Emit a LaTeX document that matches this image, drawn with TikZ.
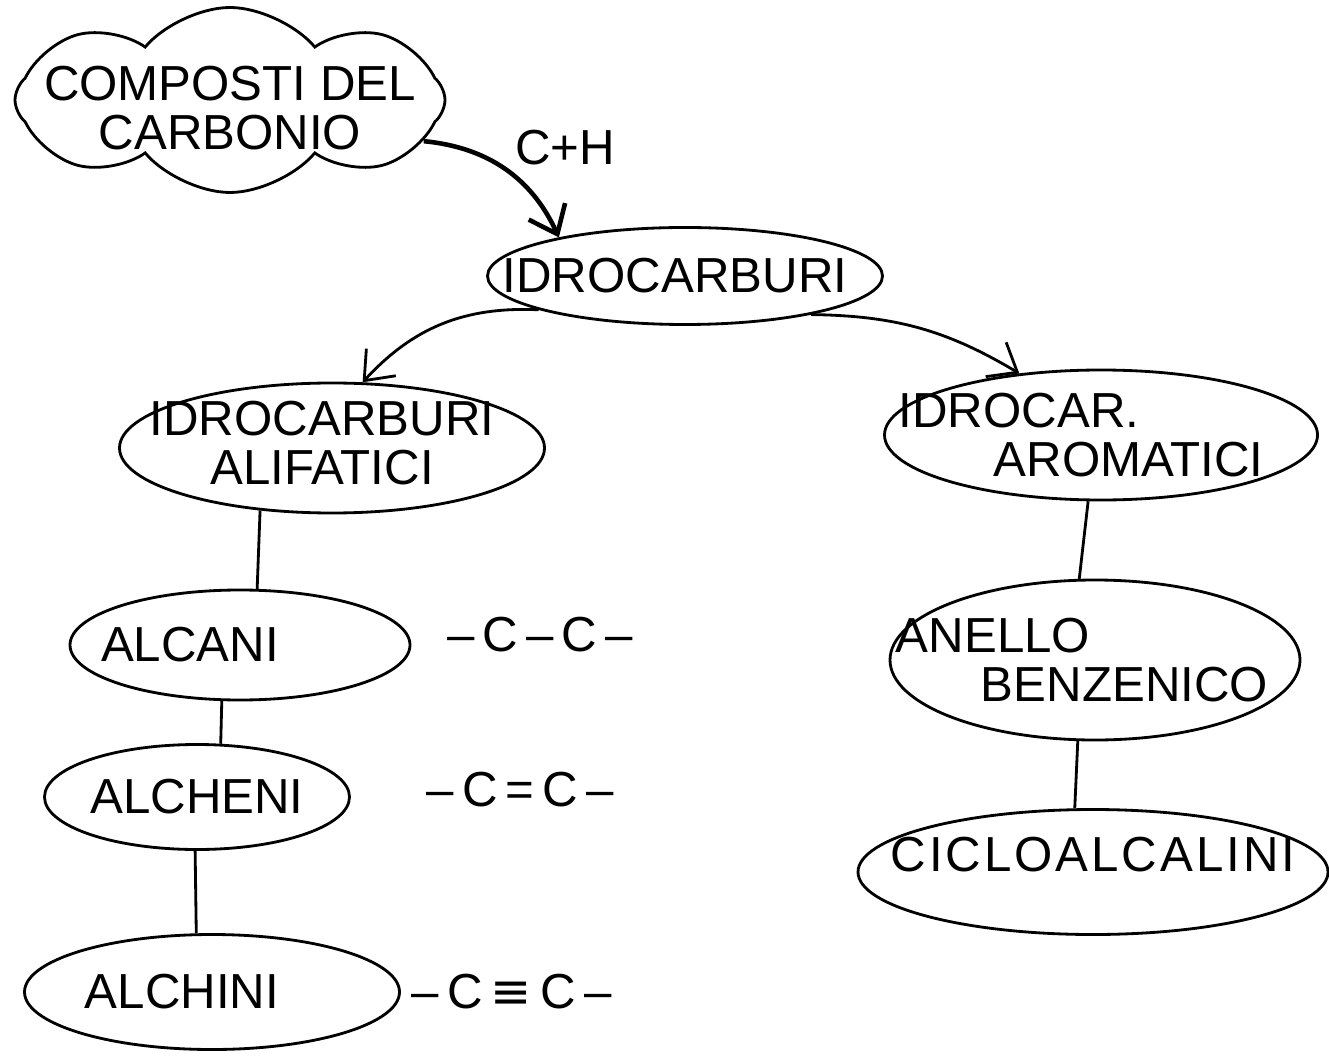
\documentclass[tikz,border=0pt]{standalone}
\usepackage{fontspec}
\setmainfont{Liberation Sans}
\newfontfamily\symfont{DejaVu Sans}
\usepackage{tikz}
\usetikzlibrary{positioning, arrows.meta, shapes.geometric, shapes.symbols}
\tikzset{>={Straight Barb[length=2.5mm, width=4mm]}}

\begin{document}
\begin{tikzpicture}
    [blob/.style={draw, ellipse, thick},
      formula/.style={inner sep=0pt},
      font=\fontsize{14}{14}\selectfont]

    \useasboundingbox[fill=white] (0,0) rectangle (13.29,-10.63);

    \node[draw, thick, cloud, cloud puffs=8, cloud puff arc=100, cloud ignores aspect,
      minimum width=4.3cm, minimum height=1.85cm,
      label={[align=center, yshift=-0.08cm]center:COMPOSTI DEL\\CARBONIO}]
    (C) at (2.30,-1.00) {};
    \node[blob, minimum width=3.95cm, minimum height=0.97cm,
      label={[xshift=-0.1cm]center:IDROCARBURI}] (I) at (6.85,-2.76) {};
    \node[blob, minimum width=4.25cm, minimum height=1.3cm,
      label={[align=center, xshift=-0.1cm, yshift=0.05cm]center:IDROCARBURI\\ALIFATICI}]
    (AL) at (3.32,-4.48) {};
    \node[blob, minimum width=4.33cm, minimum height=1.3cm,
      label={[align=left, xshift=-0.2cm]center:IDROCAR.\\\hspace*{0.95cm}AROMATICI}]
    (AR) at (11.01,-4.35) {};

    \node[blob, minimum width=3.4cm, minimum height=1.1cm,
      label={[xshift=-0.5cm]center:ALCANI}] (alcani) at (2.40,-6.45) {};
    \node[blob, minimum width=3.05cm, minimum height=1.05cm,
      label={center:ALCHENI}] (alcheni) at (1.97,-7.97) {};
    \node[blob, minimum width=3.75cm, minimum height=1.15cm,
      label={[xshift=-0.3cm]center:ALCHINI}] (alchini) at (2.12,-9.92) {};

    \node[blob, minimum width=4.1cm, minimum height=1.6cm,
      label={[align=left, xshift=-0.13cm]center:ANELLO\\\hspace*{0.85cm}BENZENICO}]
    (anello) at (10.95,-6.60) {};
    \node[blob, minimum width=4.7cm, minimum height=1.25cm,
      label={[yshift=0.17cm]center:\addfontfeature{LetterSpace=6}CICLOALCALINI}]
    (ciclo) at (10.93,-8.72) {};

    \node[formula, right=0.35cm of alcani, yshift=0.1cm] (f1) {–\,C\,–\,C\,–};
    \node[formula, right=0.75cm of alcheni, yshift=0.07cm] (f2) {–\,C\,=\,C\,–};
    \node[formula, right=0.1cm of alchini] (f3) {–\,C\,{\symfont ≡}\,C\,–};

    \draw[->, line width=1.3pt] (C.-12) to[bend left=30]
    node[pos=0.3, above right=-0.25cm and 0.25cm] (CH) {C+H} (I.163);
    \draw[->, thick] (I.193) to[bend right=25] (AL.65);
    \draw[->, thick] (I.-17) to[bend left=15] (AR.143);

    \draw[thick] (AL.221) -- (alcani.73);
    \draw[thick] (alcani.252) -- (alcheni.66);
    \draw[thick] (alcheni.268) -- (alchini.105);
    \draw[thick] (AR.259) -- (anello.101);
    \draw[thick] (anello.258) -- (ciclo.106);
  \end{tikzpicture}
\end{document}
